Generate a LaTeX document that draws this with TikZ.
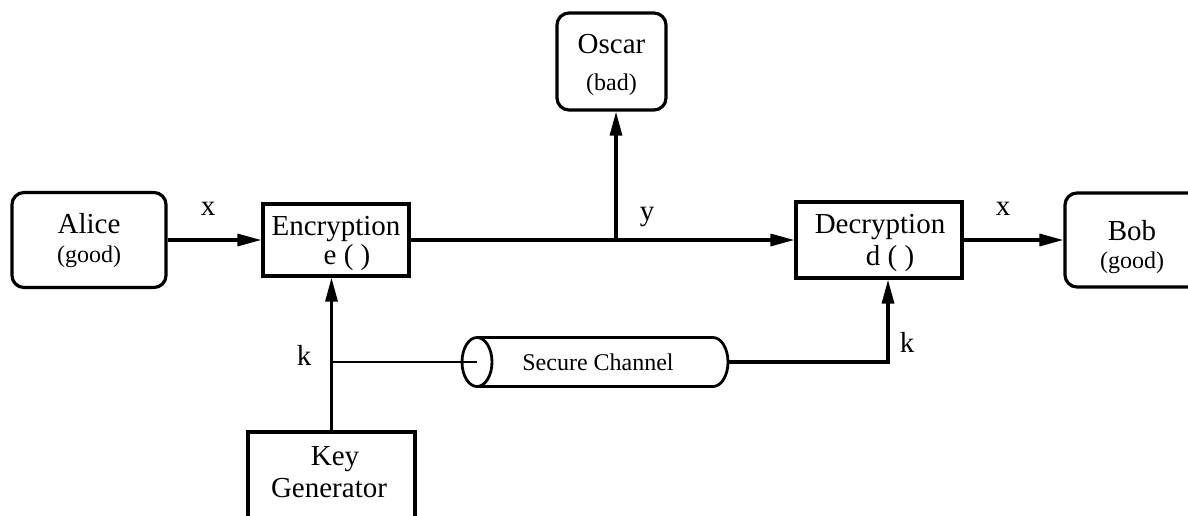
\documentclass[tikz,border=0pt]{standalone}
\usepackage{fontspec}
\setmainfont{Liberation Serif}
\usetikzlibrary{arrows.meta}
\begin{document}
\begin{tikzpicture}[x=1pt,y=-1pt,
  box/.style={draw, line width=3.2pt, inner sep=0pt},
  party/.style={box, rounded corners=12pt},
  wire/.style={line width=3.2pt},
  thinwire/.style={line width=1.6pt},
  arr/.style={wire, -{Triangle[length=24pt,width=12pt]}},
  big/.style={font=\fontsize{29}{29}\selectfont, inner sep=0pt, anchor=base},
  small/.style={font=\fontsize{24}{24}\selectfont, inner sep=0pt, anchor=base},
]
\useasboundingbox (0,0) rectangle (1188,515);
\clip (0,0) rectangle (1188,515);

% boxes
\node[party, minimum width=154pt, minimum height=95pt] (alice) at (89,240) {};
\node[box, minimum width=146pt, minimum height=72pt] (enc) at (336,240) {};
\node[party, minimum width=109pt, minimum height=97pt] (oscar) at (611.5,61.5) {};
\node[box, minimum width=166pt, minimum height=76pt] (dec) at (879,240) {};
\node[party, minimum width=150pt, minimum height=94pt] (bob) at (1140,240) {};
\node[box, minimum width=167pt, minimum height=130pt] (keygen) at (331.5,497) {};

% box texts
\node[big] (alicet) at (89,233) {Alice};
\node[small] (aliceg) at (89,262) {(good)};
\node[big] (enct) at (336,235) {Encryption};
\node[big] (ence) at (347,264) {e ( )};
\node[big] (oscart) at (611.5,53) {Oscar};
\node[small] (oscarb) at (611.5,90) {(bad)};
\node[big] (dect) at (880,233) {Decryption};
\node[big] (decd) at (890,265) {d ( )};
\node[big] (bobt) at (1132,240) {Bob};
\node[small] (bobg) at (1132,268) {(good)};
\node[big] (keyt) at (335,465) {Key};
\node[big] (keyg) at (329,497) {Generator};

% secure channel (cylinder lying on its side)
\coordinate (chin) at (477,362);
\coordinate (chout) at (728,362);
\draw[line width=2.8pt] (477,337.5) -- (713,337.5)
  arc[start angle=90, end angle=-90, x radius=15pt, y radius=24.5pt]
  -- (477,386.5);
\draw[line width=2.8pt] (chin) ellipse [x radius=15pt, y radius=24.5pt];
\node[small] (channel) at (598,370) {Secure Channel};

% connectors
\coordinate (tap) at (616,240);
\coordinate (kj) at (331.5,362);
\coordinate (kr) at (888,362);
\draw[arr] (alice) -- (enc);
\draw[arr] (enc) -- (dec);
\draw[arr] (tap) -- (tap |- oscar.south);
\draw[arr] (dec) -- (bob);
\draw[arr] (keygen.north) -- (keygen.north |- enc.south);
\draw[thinwire] (kj) -- (chin);
\draw[arr] (chout) -- (kr) -- (kr |- dec.south);

% connector labels
\node[big] (lx1) at (208,215) {x};
\node[big] (ly) at (647,220) {y};
\node[big] (lx2) at (1003,215) {x};
\node[big] (lk1) at (304,365) {k};
\node[big] (lk2) at (907,352) {k};
\end{tikzpicture}
\end{document}
